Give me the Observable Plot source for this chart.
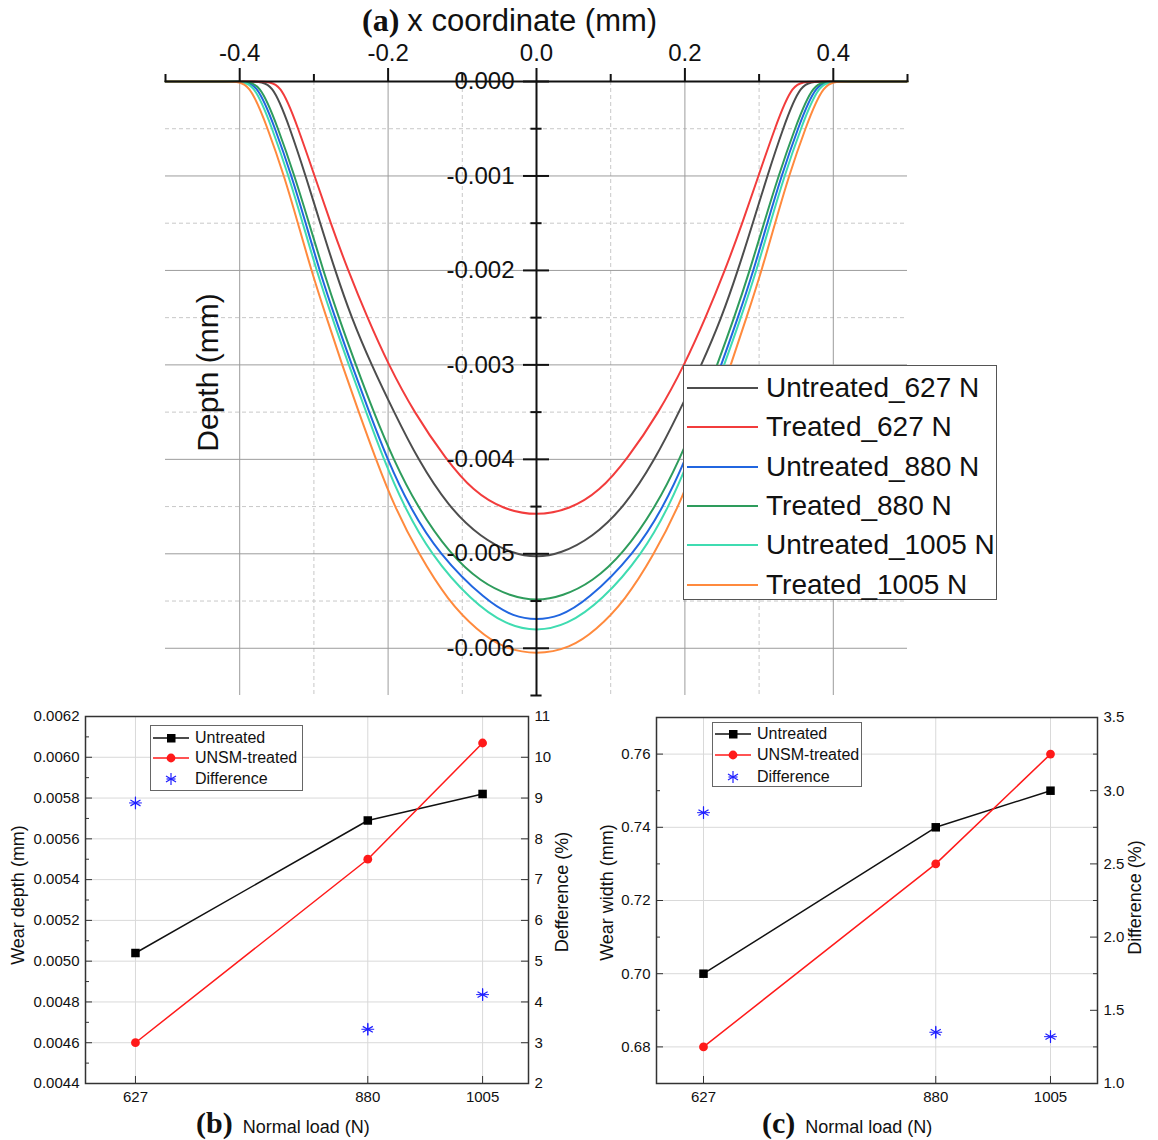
<!DOCTYPE html>
<html><head><meta charset="utf-8">
<script src="https://cdn.jsdelivr.net/npm/d3@7"></script>
<script src="https://cdn.jsdelivr.net/npm/@observablehq/plot@0.6"></script>
<style>
body{margin:0;background:#fff;}
#root{position:relative;width:1158px;height:1140px;overflow:hidden;background:#fff;font-family:"Liberation Sans",Arial,sans-serif;color:#111;}
.leg{position:absolute;background:#fff;border:1.5px solid #555;box-sizing:border-box;}
.row{position:absolute;left:0;white-space:nowrap;display:flex;align-items:center;}
.cap{position:absolute;white-space:nowrap;display:flex;align-items:baseline;color:#111;}
.serifb{font-family:"Liberation Serif","Times New Roman",serif;font-weight:bold;}
</style></head>
<body><div id="root"></div>
<script>
// ---------- Panel (a): wear track profiles ----------
const seriesA = ["Untreated_627 N","Treated_627 N","Untreated_880 N","Treated_880 N","Untreated_1005 N","Treated_1005 N"];
const colorsA = ["#4d4d4d","#f23c3c","#2166e0","#2e9c5c","#3fdcb1","#ff8a3d"];

const untreated627X = [-0.5,-0.381,-0.356,-0.332,-0.311,-0.2915,-0.2715,-0.2495,-0.2225,-0.192,-0.160,-0.119,-0.075,-0.032,0,0.032,0.075,0.119,0.160,0.192,0.2225,0.2495,0.2715,0.2915,0.311,0.332,0.356,0.381,0.5];
const untreated627Y = [0,0,0,-0.0005,-0.001,-0.0015,-0.002,-0.0025,-0.003,-0.0035,-0.004,-0.0045,-0.00483,-0.005,-0.00504,-0.005,-0.00483,-0.0045,-0.004,-0.0035,-0.003,-0.0025,-0.002,-0.0015,-0.001,-0.0005,0,0,0];

const treated627X = [-0.5,-0.37,-0.345,-0.321,-0.299,-0.2775,-0.254,-0.228,-0.1994,-0.1653,-0.1221,-0.085,-0.045,0,0.045,0.085,0.1221,0.1653,0.1994,0.228,0.254,0.2775,0.299,0.321,0.345,0.37,0.5];
const treated627Y = [0,0,0,-0.0005,-0.001,-0.0015,-0.002,-0.0025,-0.003,-0.0035,-0.004,-0.00434,-0.00453,-0.0046,-0.00453,-0.00434,-0.004,-0.0035,-0.003,-0.0025,-0.002,-0.0015,-0.001,-0.0005,0,0,0];

const untreated880X = [-0.5,-0.402,-0.377,-0.352,-0.330,-0.311,-0.2925,-0.2715,-0.249,-0.2255,-0.201,-0.1715,-0.132,-0.068,-0.03,0,0.03,0.068,0.132,0.1715,0.201,0.2255,0.249,0.2715,0.2925,0.311,0.330,0.352,0.377,0.402,0.5];
const untreated880Y = [0,0,0,-0.0005,-0.001,-0.0015,-0.002,-0.0025,-0.003,-0.0035,-0.004,-0.0045,-0.005,-0.0055,-0.00567,-0.0057,-0.00567,-0.0055,-0.005,-0.0045,-0.004,-0.0035,-0.003,-0.0025,-0.002,-0.0015,-0.001,-0.0005,0,0,0];

const treated880X = [-0.5,-0.398,-0.373,-0.348,-0.326,-0.3065,-0.2875,-0.2665,-0.2435,-0.2195,-0.193,-0.161,-0.117,-0.075,-0.035,0,0.035,0.075,0.117,0.161,0.193,0.2195,0.2435,0.2665,0.2875,0.3065,0.326,0.348,0.373,0.398,0.5];
const treated880Y = [0,0,0,-0.0005,-0.001,-0.0015,-0.002,-0.0025,-0.003,-0.0035,-0.004,-0.0045,-0.005,-0.0053,-0.00545,-0.0055,-0.00545,-0.0053,-0.005,-0.0045,-0.004,-0.0035,-0.003,-0.0025,-0.002,-0.0015,-0.001,-0.0005,0,0,0];

const untreated1005X = [-0.5,-0.406,-0.381,-0.356,-0.334,-0.315,-0.2965,-0.2755,-0.253,-0.2295,-0.206,-0.1785,-0.143,-0.088,-0.04,0,0.04,0.088,0.143,0.1785,0.206,0.2295,0.253,0.2755,0.2965,0.315,0.334,0.356,0.381,0.406,0.5];
const untreated1005Y = [0,0,0,-0.0005,-0.001,-0.0015,-0.002,-0.0025,-0.003,-0.0035,-0.004,-0.0045,-0.005,-0.0055,-0.00576,-0.00582,-0.00576,-0.0055,-0.005,-0.0045,-0.004,-0.0035,-0.003,-0.0025,-0.002,-0.0015,-0.001,-0.0005,0,0,0];

const treated1005X = [-0.5,-0.412,-0.387,-0.362,-0.340,-0.3215,-0.3035,-0.283,-0.262,-0.2395,-0.2165,-0.1915,-0.159,-0.119,-0.08,-0.045,0,0.045,0.08,0.119,0.159,0.1915,0.2165,0.2395,0.262,0.283,0.3035,0.3215,0.340,0.362,0.387,0.412,0.5];
const treated1005Y = [0,0,0,-0.0005,-0.001,-0.0015,-0.002,-0.0025,-0.003,-0.0035,-0.004,-0.0045,-0.005,-0.0055,-0.00581,-0.006,-0.00607,-0.006,-0.00581,-0.0055,-0.005,-0.0045,-0.004,-0.0035,-0.003,-0.0025,-0.002,-0.0015,-0.001,-0.0005,0,0,0];

const xMajA = [-0.4,-0.2,0,0.2,0.4];
const xMinA = [-0.5,-0.3,-0.1,0.1,0.3,0.5];
const yMajA = [0,-0.001,-0.002,-0.003,-0.004,-0.005,-0.006];
const yMinA = [-0.0005,-0.0015,-0.0025,-0.0035,-0.0045,-0.0055,-0.0065];

// ---------- Panels (b) and (c) ----------
const loads = [627, 880, 1005];
const depthUntreated = [0.00504, 0.00569, 0.00582];
const depthTreated = [0.00460, 0.00550, 0.00607];
const depthDiff = [8.88, 3.33, 4.18];
const widthUntreated = [0.70, 0.74, 0.75];
const widthTreated = [0.68, 0.73, 0.76];
const widthDiff = [2.85, 1.35, 1.32];

const yTicksB = [0.0044,0.0046,0.0048,0.0050,0.0052,0.0054,0.0056,0.0058,0.0060,0.0062];
const yMinorB = [0.0045,0.0047,0.0049,0.0051,0.0053,0.0055,0.0057,0.0059,0.0061];
const rTicksB = [2,3,4,5,6,7,8,9,10,11];
const yTicksC = [0.68,0.70,0.72,0.74,0.76];
const yMinorC = [0.67,0.69,0.71,0.73,0.75,0.77];
const rTicksC = [1.0,1.5,2.0,2.5,3.0,3.5];
const rMinorC = [1.25,1.75,2.25,2.75,3.25];

const root = document.getElementById("root");
const FONT = "Liberation Sans, Arial, sans-serif";

const profiles = [
  [seriesA[0], untreated627X, untreated627Y],
  [seriesA[1], treated627X, treated627Y],
  [seriesA[2], untreated880X, untreated880Y],
  [seriesA[3], treated880X, treated880Y],
  [seriesA[4], untreated1005X, untreated1005Y],
  [seriesA[5], treated1005X, treated1005Y]
];
const rowsA = profiles.flatMap(([s, xs, ys]) => xs.map((x, i) => ({series: s, x, y: ys[i]})));

const plotA = Plot.plot({
  width: 1158, height: 700, marginLeft: 165, marginRight: 251, marginTop: 81, marginBottom: 5,
  style: {fontFamily: FONT, background: "transparent", overflow: "visible", color: "#111"},
  x: {domain: [-0.5, 0.5], label: null},
  y: {domain: [-0.0065, 0], axis: null, label: null},
  color: {domain: seriesA, range: colorsA},
  marks: [
    Plot.ruleX([-0.3,-0.1,0.1,0.3], {stroke: "#c8c8c8", strokeDasharray: "4,3"}),
    Plot.ruleY(yMinA.slice(0, 6), {stroke: "#c8c8c8", strokeDasharray: "4,3"}),
    Plot.ruleX([-0.4,-0.2,0.2,0.4], {stroke: "#9c9c9c"}),
    Plot.ruleY(yMajA.slice(1), {stroke: "#9c9c9c"}),
    Plot.line(rowsA, {x: "x", y: "y", z: "series", stroke: "series", curve: "basis", strokeWidth: 2}),
    Plot.ruleY([0], {stroke: "#111", strokeWidth: 2}),
    Plot.axisX({anchor: "top", ticks: xMajA, tickSize: 14, tickPadding: 7, fontSize: 24, strokeWidth: 2, tickFormat: d => d.toFixed(1), label: null}),
    Plot.axisX({anchor: "top", ticks: xMinA, tickSize: 8, strokeWidth: 2, tickFormat: () => "", label: null}),
    Plot.ruleX([0], {stroke: "#111", strokeWidth: 2}),
    Plot.ruleY(yMajA, {x1: -0.0175, x2: 0.0175, stroke: "#111", strokeWidth: 2}),
    Plot.ruleY(yMinA, {x1: -0.0075, x2: 0.0075, stroke: "#111", strokeWidth: 2}),
    Plot.text(yMajA, {x: 0, y: d => d, text: d => d.toFixed(3), dx: -22, textAnchor: "end", fontSize: 24, fill: "#111"}),
    Plot.text(["Depth (mm)"], {frameAnchor: "left", textAnchor: "middle", dx: 43, dy: -16, rotate: -90, fontSize: 30, fill: "#111"})
  ]
});
plotA.style.position = "absolute"; plotA.style.left = "0px"; plotA.style.top = "0px";
root.appendChild(plotA);

// Title (a)
const tA = document.createElement("div");
tA.className = "cap";
tA.style.left = "362px"; tA.style.top = "2px";
tA.innerHTML = '<span class="serifb" style="font-size:32px">(a)</span><span style="font-size:31px;margin-left:8px">x coordinate (mm)</span>';
root.appendChild(tA);

// Legend (a)
const legA = document.createElement("div");
legA.className = "leg";
Object.assign(legA.style, {left: "683px", top: "365px", width: "314px", height: "235px"});
seriesA.forEach((s, i) => {
  const r = document.createElement("div");
  r.className = "row";
  r.style.top = (22 + i * 39.3 - 17) + "px";
  r.style.height = "34px";
  r.innerHTML = `<svg width="82" height="34" style="flex:none"><line x1="3" y1="17" x2="74" y2="17" stroke="${colorsA[i]}" stroke-width="2.2"/></svg><span style="font-size:28px;line-height:34px">${s}</span>`;
  legA.appendChild(r);
});
root.appendChild(legA);

// ---------- helper for (b) and (c) ----------
function panel(cfg) {
  const {width, height, mL, mR, mT, mB, xDom, yDom, yTicks, yMinor, yFmt, rTicks, rMinor, rFmt, rMap,
         unt, trt, diff, leftLabel, rightLabel, leftDx, rightDx, leftDy, rightDy} = cfg;
  const kx = (xDom[1] - xDom[0]) / (width - mL - mR);
  const ky = (yDom[1] - yDom[0]) / (height - mT - mB);
  const tU = loads.map((l, i) => ({load: l, v: unt[i]}));
  const tT = loads.map((l, i) => ({load: l, v: trt[i]}));
  const tD = loads.map((l, i) => ({load: l, v: rMap(diff[i])}));
  return Plot.plot({
    width, height, marginLeft: mL, marginRight: mR, marginTop: mT, marginBottom: mB,
    style: {fontFamily: FONT, background: "transparent", overflow: "visible", color: "#111"},
    x: {domain: xDom, label: null},
    y: {domain: yDom, label: null},
    marks: [
      Plot.ruleY(yTicks, {stroke: "#d9d9d9"}),
      Plot.ruleX(loads, {stroke: "#d9d9d9"}),
      Plot.ruleY(yTicks, {x1: xDom[0], x2: xDom[0] + 7 * kx, stroke: "#333"}),
      Plot.ruleY(yMinor, {x1: xDom[0], x2: xDom[0] + 4 * kx, stroke: "#333"}),
      Plot.ruleY(rTicks.map(rMap), {x1: xDom[1] - 7 * kx, x2: xDom[1], stroke: "#333"}),
      Plot.ruleY((rMinor || []).map(rMap), {x1: xDom[1] - 4 * kx, x2: xDom[1], stroke: "#333"}),
      Plot.ruleX(loads, {y1: yDom[0], y2: yDom[0] + 7 * ky, stroke: "#333"}),
      Plot.frame({stroke: "#333", strokeWidth: 1.5}),
      Plot.axisY({ticks: yTicks, tickSize: 0, tickPadding: 6, fontSize: 15, tickFormat: yFmt, label: null}),
      Plot.text(rTicks, {x: xDom[1], y: rMap, dx: 6, textAnchor: "start", text: rFmt, fontSize: 15, fill: "#111"}),
      Plot.axisX({ticks: loads, tickSize: 0, tickPadding: 8, fontSize: 15, tickFormat: d => String(d), label: null}),
      Plot.line(tU, {x: "load", y: "v", stroke: "#111", strokeWidth: 1.5}),
      Plot.line(tT, {x: "load", y: "v", stroke: "#ff1a1a", strokeWidth: 1.5}),
      Plot.dot(tU, {x: "load", y: "v", symbol: "square", fill: "#000", r: 4.8}),
      Plot.dot(tT, {x: "load", y: "v", symbol: "circle", fill: "#ff1a1a", r: 4.4}),
      Plot.dot(tD, {x: "load", y: "v", symbol: "asterisk", stroke: "#1f1fff", strokeWidth: 1.2, r: 5.5}),
      Plot.dot(tD, {x: "load", y: "v", symbol: "plus", stroke: "#1f1fff", strokeWidth: 1.0, r: 4.2}),
      Plot.text([leftLabel], {frameAnchor: "left", textAnchor: "middle", dx: leftDx, dy: leftDy, rotate: -90, fontSize: 18, fill: "#111"}),
      Plot.text([rightLabel], {frameAnchor: "right", textAnchor: "middle", dx: rightDx, dy: rightDy, rotate: -90, fontSize: 18, fill: "#111"})
    ]
  });
}

const plotB = panel({
  width: 575, height: 440, mL: 85, mR: 47, mT: 16, mB: 57,
  xDom: [572.6, 1055], yDom: [0.0044, 0.0062],
  yTicks: yTicksB, yMinor: yMinorB, yFmt: d => d.toFixed(4),
  rTicks: rTicksB, rMinor: null, rFmt: d => String(d), rMap: d => 0.0044 + (d - 2) * 0.0002,
  unt: depthUntreated, trt: depthTreated, diff: depthDiff,
  leftLabel: "Wear depth (mm)", rightLabel: "Defference (%)", leftDx: -67, rightDx: 34, leftDy: -5, rightDy: -8
});
plotB.style.position = "absolute"; plotB.style.left = "0px"; plotB.style.top = "700px";
root.appendChild(plotB);

const plotC = panel({
  width: 578, height: 440, mL: 76, mR: 61, mT: 17, mB: 57,
  xDom: [575.8, 1056.2], yDom: [0.67, 0.77],
  yTicks: yTicksC, yMinor: yMinorC, yFmt: d => d.toFixed(2),
  rTicks: rTicksC, rMinor: rMinorC, rFmt: d => d.toFixed(1), rMap: d => 0.67 + (d - 1) * 0.04,
  unt: widthUntreated, trt: widthTreated, diff: widthDiff,
  leftLabel: "Wear width (mm)", rightLabel: "Difference (%)", leftDx: -49, rightDx: 38, leftDy: -8, rightDy: -3
});
plotC.style.position = "absolute"; plotC.style.left = "580px"; plotC.style.top = "700px";
root.appendChild(plotC);

// Legends (b), (c)
const legItems = [
  ["Untreated", '<line x1="2" y1="8" x2="38" y2="8" stroke="#111" stroke-width="1.5"/><rect x="16" y="4" width="8.5" height="8.5" fill="#000"/>'],
  ["UNSM-treated", '<line x1="2" y1="8" x2="38" y2="8" stroke="#ff1a1a" stroke-width="1.5"/><circle cx="20" cy="8" r="4.4" fill="#ff1a1a"/>'],
  ["Difference", '<g stroke="#1f1fff" stroke-width="1.2"><line x1="20" y1="2" x2="20" y2="14"/><line x1="15" y1="5" x2="25" y2="11"/><line x1="15" y1="11" x2="25" y2="5"/><line x1="15.5" y1="8" x2="24.5" y2="8"/></g>']
];
function smallLegend(left, top, w, h, rowsY) {
  const L = document.createElement("div");
  L.className = "leg";
  Object.assign(L.style, {left: left + "px", top: top + "px", width: w + "px", height: h + "px", border: "1.2px solid #666"});
  legItems.forEach(([t, sw], i) => {
    const r = document.createElement("div");
    r.className = "row";
    r.style.top = (rowsY[i] - 9) + "px";
    r.style.height = "18px";
    r.innerHTML = `<svg width="44" height="16" style="flex:none">${sw}</svg><span style="font-size:16px;line-height:18px">${t}</span>`;
    L.appendChild(r);
  });
  root.appendChild(L);
}
smallLegend(150, 725, 153, 66, [12, 32, 53]);
smallLegend(712, 722, 150, 65, [11, 32, 54]);

// Captions (b), (c)
function caption(left, letter) {
  const c = document.createElement("div");
  c.className = "cap";
  c.style.left = left + "px"; c.style.top = "1106px";
  c.innerHTML = `<span class="serifb" style="font-size:30px">(${letter})</span><span style="font-size:18px;margin-left:10px">Normal load (N)</span>`;
  root.appendChild(c);
}
caption(196, "b");
caption(762, "c");
</script>
</body></html>
